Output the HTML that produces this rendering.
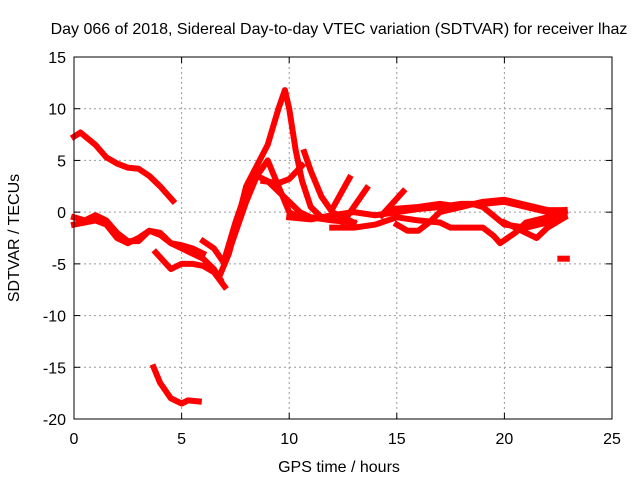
<!DOCTYPE html>
<html><head><meta charset="utf-8"><style>
body{margin:0;background:#fff;}
svg text{font-family:"Liberation Sans",sans-serif;font-size:16px;fill:#000;}
</style></head><body>
<svg id="chart" width="640" height="480">
<text x="339" y="34" text-anchor="middle">Day 066 of 2018, Sidereal Day-to-day VTEC variation (SDTVAR) for receiver lhaz</text>
<text x="339" y="472" text-anchor="middle">GPS time / hours</text>
<text transform="translate(19,238) rotate(-90)" text-anchor="middle">SDTVAR / TECUs</text>
<g id="grid"></g><g id="marks"></g>
<rect x="74" y="57" width="538" height="362" fill="none" stroke="#000" stroke-width="1"/>
</svg>
<script>
const xTicks=[0,5,10,15,20,25];
const yTicks=[15,10,5,0,-5,-10,-15,-20];
const track1=[[0,7.3],[0.3,7.7],[1,6.5],[1.5,5.3],[2,4.7],[2.5,4.3],[3,4.2],[3.5,3.5],[4,2.5],[4.6,1.1]];
const track2=[[0,-0.5],[0.5,-0.8],[1,-0.3],[1.5,-0.8],[2,-2],[2.5,-2.8],[3,-2.8],[3.5,-1.8],[4,-2.2],[4.5,-3],[5,-3.2],[5.5,-3.5],[6,-4]];
const track3=[[0,-1.2],[1,-0.8],[1.5,-1.2],[2,-2.5],[2.5,-3],[3,-2.5],[3.5,-1.8],[4,-2],[4.5,-3],[5,-3.5],[5.5,-4],[6,-4.5],[6.5,-5.5],[6.8,-6.5]];
const track4=[[3.8,-3.9],[4.5,-5.5],[5,-5],[5.5,-5],[6,-5.2],[6.5,-5.8],[7,-7.2]];
const track5=[[6,-2.8],[6.5,-3.5],[7,-5],[7.5,-2],[8,1],[8.5,3.5],[9,5],[9.3,3.5],[9.7,1.5],[10,0],[10.5,-0.5],[11,-0.5]];
const track6=[[6.8,-6],[7.2,-4],[7.7,0],[8,2.5],[8.5,4.5],[9,6.5],[9.5,10],[9.8,11.8],[10,10],[10.3,6],[10.6,3],[11,0.5],[11.5,-0.5],[12,-0.5]];
const track7=[[7,-4.5],[7.5,-1],[8,2],[8.5,3.5],[9,3],[9.5,2],[10,1],[10.5,0],[11,-0.5],[12,-0.8],[13,-1]];
const track8=[[8.8,3],[9.5,2.8],[10,3.2],[10.6,4.5]];
const track9=[[10.7,5.8],[11,4],[11.5,1.5],[12,0],[12.5,-0.5],[13,-1]];
const track10=[[10,-0.5],[11,-0.7],[12,-0.3],[13,0],[14,-0.3],[15,0],[16,0.3],[17,0.5],[18,0.8],[19,0.8],[20,1],[21,0.5],[22,0],[22.8,0.2]];
const track11=[[12,-1.5],[13,-1.5],[14,-1.2],[15,-0.5],[16,-0.8],[17,-1],[17.5,-1.5],[18,-1.5],[19,-1.5],[19.5,-2.3],[19.8,-3],[20.5,-2],[21,-1],[22,-0.5],[22.8,-0.3]];
const track12=[[15,-1.2],[15.5,-1.8],[16,-1.8],[16.5,-1],[17,0],[18,0.5],[18.5,0.8],[19,0.5],[20,-1.2],[21,-1.5],[22,-1],[22.8,0]];
const track13=[[14.8,0.3],[16,0.5],[17,0.8],[18,0.5],[19,1],[20,1.2],[21,0.7],[22,0.2],[22.8,0.2]];
const track14=[[20,-1],[21,-2],[21.5,-2.5],[22,-1.5],[22.8,-0.5]];
const track15=[[12,0.3],[12.8,3.3]];
const track16=[[12.5,-1],[13.6,2.3]];
const track17=[[14.3,-0.3],[15.3,2]];
const track18=[[3.7,-15],[4,-16.5],[4.5,-18],[5,-18.5],[5.3,-18.2],[5.8,-18.3]];
const track19=[[22.6,-4.5],[22.9,-4.5]];
const tracks=[track1,track2,track3,track4,track5,track6,track7,track8,track9,track10,track11,track12,track13,track14,track15,track16,track17,track18,track19];
const X0=74,X1=612,Y0=419,Y1=57;
const xs=v=>X0+(v-0)/25*(X1-X0);
const ys=v=>Y0-(v+20)/35*(Y0-Y1);
const NS="http://www.w3.org/2000/svg";
const grid=document.getElementById('grid'),marks=document.getElementById('marks'),svg=document.getElementById('chart');
function mk(t,a){const e=document.createElementNS(NS,t);for(const k in a)e.setAttribute(k,a[k]);return e;}
xTicks.forEach(t=>{const x=xs(t);
 if(t>0&&t<25){const g=mk('line',{x1:x,x2:x,y1:Y0,y2:Y1,stroke:'#999','stroke-dasharray':'2,3'});
 
 grid.appendChild(g);}
 grid.appendChild(mk('line',{x1:x,x2:x,y1:Y0,y2:Y0-6,stroke:'#000'}));
 grid.appendChild(mk('line',{x1:x,x2:x,y1:Y1,y2:Y1+6,stroke:'#000'}));
 const l=mk('text',{x:x,y:Y0+25,'text-anchor':'middle'});l.textContent=t;
 
 svg.appendChild(l);});
yTicks.forEach(t=>{const y=ys(t);
 if(t>-20&&t<15){const g=mk('line',{x1:X0,x2:X1,y1:y,y2:y,stroke:'#999','stroke-dasharray':'2,3'});
 
 grid.appendChild(g);}
 grid.appendChild(mk('line',{x1:X0,x2:X0+6,y1:y,y2:y,stroke:'#000'}));
 grid.appendChild(mk('line',{x1:X1,x2:X1-6,y1:y,y2:y,stroke:'#000'}));
 const l=mk('text',{x:X0-8,y:y+6,'text-anchor':'end'});l.textContent=t;
 
 svg.appendChild(l);});
tracks.forEach((tr,i)=>{
 const p=mk('polyline',{points:tr.map(d=>xs(d[0])+','+ys(d[1])).join(' '),fill:'none',stroke:'#f00','stroke-width':6,'stroke-linejoin':'round','stroke-linecap':'square'});
 
 
 marks.appendChild(p);});
</script>
</body></html>
